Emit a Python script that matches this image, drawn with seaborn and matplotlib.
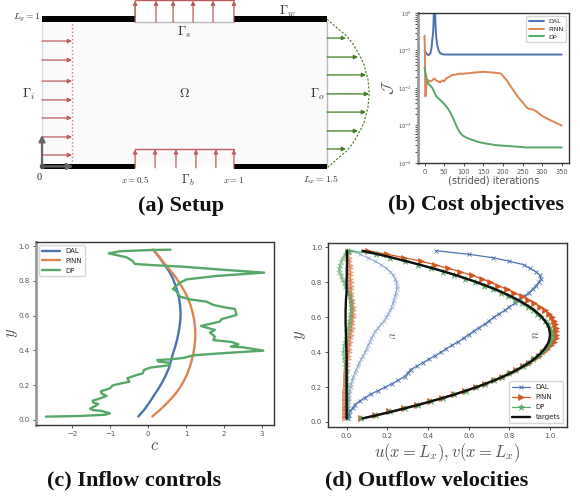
import matplotlib
matplotlib.use("Agg")
import matplotlib.pyplot as plt
import pandas as pd
import seaborn as sns
from matplotlib.patches import Rectangle

# (b) cost objectives
iter_dal = [0, 3, 6, 10, 15, 18, 20, 22, 23, 24, 25, 26, 27, 28, 30, 33, 36, 40, 45, 50, 100, 200, 350]
cost_dal = [0.1, 0.09, 0.08, 0.075, 0.083, 0.12, 0.2, 0.3, 0.5, 1.5, 3.0, 3.0, 1.5, 0.5, 0.22, 0.13, 0.1, 0.085, 0.08,
            0.078, 0.078, 0.078, 0.078]
iter_pinn = [0, 1, 2, 3, 5, 8, 10, 15, 20, 25, 30, 35, 40, 45, 50, 55, 60, 65, 70, 80, 90, 100, 115, 130, 150, 170, 190,
             195, 200, 210, 220, 230, 240, 250, 260, 265, 275, 285, 300, 320, 350]
cost_pinn = [0.25, 0.1, 0.006, 0.006, 0.012, 0.016, 0.016, 0.015, 0.016, 0.018, 0.016, 0.015, 0.014, 0.016, 0.015, 0.018,
             0.019, 0.02, 0.022, 0.023, 0.024, 0.024, 0.025, 0.026, 0.027, 0.026, 0.025, 0.024, 0.021, 0.016, 0.011, 0.0078,
             0.0055, 0.0042, 0.0031, 0.0028, 0.0027, 0.0024, 0.0018, 0.0014, 0.001]
iter_dp = [0, 3, 6, 10, 15, 20, 25, 30, 40, 50, 60, 65, 70, 75, 80, 85, 90, 95, 100, 110, 120, 135, 150, 180, 220, 260, 350]
cost_dp = [0.035, 0.024, 0.017, 0.013, 0.0115, 0.01, 0.0078, 0.006, 0.0048, 0.0038, 0.0028, 0.0023, 0.0018, 0.0014, 0.00105,
           0.00082, 0.00066, 0.00057, 0.00052, 0.00046, 0.00042, 0.00037, 0.00034, 0.0003, 0.00028, 0.00026, 0.00026]

# (c) inflow controls
c_y_lines = [0.02, 0.06, 0.1, 0.14, 0.18, 0.22, 0.26, 0.30, 0.34, 0.38, 0.42, 0.46, 0.5, 0.54, 0.58, 0.62, 0.66, 0.70,
             0.74, 0.78, 0.82, 0.86, 0.90, 0.94, 0.98]
c_dal = [-0.26, -0.1, 0.03, 0.15, 0.27, 0.38, 0.47, 0.55, 0.60, 0.65, 0.71, 0.76, 0.80, 0.83, 0.85, 0.855, 0.84, 0.815,
         0.77, 0.71, 0.64, 0.54, 0.41, 0.28, 0.135]
c_pinn = [0.11, 0.32, 0.51, 0.68, 0.82, 0.93, 1.02, 1.09, 1.145, 1.19, 1.22, 1.24, 1.245, 1.235, 1.21, 1.17, 1.12, 1.05,
          0.96, 0.85, 0.73, 0.59, 0.43, 0.29, 0.135]
c_y_dp = [0.019, 0.023, 0.030, 0.038, 0.052, 0.057, 0.065, 0.080, 0.092, 0.10, 0.111, 0.121, 0.138, 0.153, 0.165, 0.182,
          0.199, 0.211, 0.22, 0.24, 0.259, 0.268, 0.288, 0.301, 0.316, 0.33, 0.336, 0.345, 0.349, 0.357, 0.372, 0.382,
          0.399, 0.418, 0.422, 0.435, 0.449, 0.46, 0.48, 0.503, 0.518, 0.541, 0.566, 0.581, 0.604, 0.639, 0.646, 0.662,
          0.681, 0.694, 0.710, 0.744, 0.754, 0.790, 0.809, 0.829, 0.848, 0.863, 0.882, 0.892, 0.898, 0.917, 0.936, 0.959,
          0.971, 0.978, 0.980]
c_dp = [-2.70, -1.80, -1.14, -1.01, -1.23, -1.45, -1.535, -1.40, -1.315, -1.45, -1.465, -1.315, -1.095, -1.23, -1.25, -1.01,
        -0.937, -0.70, -0.497, -0.55, -0.30, -0.145, -0.11, 0.05, 0.58, 0.53, 0.27, 0.24, 0.58, 0.93, 1.19, 1.81,
        3.04, 2.51, 2.18, 2.38, 2.20, 1.72, 1.76, 1.63, 1.76, 1.39, 1.89, 1.94, 2.33, 2.29, 2.07, 1.72,
        1.54, 1.10, 0.84, 0.73, 0.65, 0.84, 1.01, 1.81, 3.06, 2.07, 0.93, 0.05, -0.35, -0.42, -0.57, -1.04,
        -0.74, 0.05, 0.59]

# (d) outflow velocities
out_y = [0.02, 0.04, 0.06, 0.08, 0.10, 0.12, 0.14, 0.16, 0.18, 0.20, 0.22, 0.24, 0.26, 0.28, 0.30, 0.32, 0.34,
         0.36, 0.38, 0.40, 0.42, 0.44, 0.46, 0.48, 0.50, 0.52, 0.54, 0.56, 0.58, 0.60, 0.62, 0.64, 0.66, 0.68,
         0.70, 0.72, 0.74, 0.76, 0.78, 0.80, 0.82, 0.84, 0.86, 0.88, 0.90, 0.92, 0.94, 0.96, 0.98]
u_target = [0.078, 0.154, 0.226, 0.294, 0.36, 0.422, 0.482, 0.538, 0.59, 0.64, 0.686, 0.73, 0.77, 0.806, 0.84, 0.87, 0.898,
            0.922, 0.942, 0.96, 0.974, 0.986, 0.994, 0.998, 1.0, 0.998, 0.994, 0.986, 0.974, 0.96, 0.942, 0.922, 0.898, 0.87,
            0.84, 0.806, 0.77, 0.73, 0.686, 0.64, 0.59, 0.538, 0.482, 0.422, 0.36, 0.294, 0.226, 0.154, 0.078]
v_target = [0.0, 0.0, 0.0, 0.0, 0.0, 0.0, 0.0, 0.0, 0.0, 0.0, 0.0, 0.0, 0.0, 0.0, 0.0, 0.0, 0.0,
            0.0, 0.0, -0.001, -0.001, -0.002, -0.002, -0.003, -0.003, -0.004, -0.004, -0.005, -0.005, -0.005, -0.005, -0.005, -0.004, -0.004,
            -0.003, -0.002, 0.0, 0.0, 0.0, 0.0, 0.0, 0.001, 0.001, 0.001, 0.002, 0.002, 0.002, 0.002, 0.002]
u_dal = [0.005, 0.01, 0.015, 0.03, 0.04, 0.065, 0.09, 0.12, 0.155, 0.19, 0.225, 0.255, 0.285, 0.3, 0.315, 0.345, 0.375,
         0.405, 0.435, 0.465, 0.49, 0.52, 0.55, 0.575, 0.6, 0.625, 0.65, 0.68, 0.7, 0.725, 0.75, 0.78, 0.8, 0.83,
         0.85, 0.875, 0.895, 0.915, 0.93, 0.945, 0.955, 0.95, 0.93, 0.9, 0.87, 0.8, 0.72, 0.6, 0.44]
v_dal = [0.0, 0.003, 0.005, 0.007, 0.008, 0.01, 0.012, 0.014, 0.016, 0.02, 0.024, 0.028, 0.033, 0.04, 0.048, 0.055, 0.063,
         0.072, 0.08, 0.09, 0.098, 0.106, 0.114, 0.122, 0.132, 0.142, 0.155, 0.17, 0.185, 0.195, 0.205, 0.215, 0.222, 0.228,
         0.232, 0.238, 0.243, 0.246, 0.247, 0.245, 0.238, 0.23, 0.215, 0.195, 0.17, 0.14, 0.105, 0.065, 0.03]
u_pinn = [0.07, 0.14, 0.21, 0.28, 0.345, 0.41, 0.47, 0.53, 0.58, 0.635, 0.68, 0.725, 0.765, 0.805, 0.835, 0.865, 0.895,
          0.92, 0.945, 0.965, 0.985, 1.005, 1.02, 1.028, 1.03, 1.03, 1.028, 1.025, 1.018, 1.008, 0.997, 0.975, 0.95, 0.923,
          0.893, 0.861, 0.823, 0.787, 0.746, 0.705, 0.664, 0.615, 0.557, 0.5, 0.434, 0.366, 0.284, 0.197, 0.107]
v_pinn = [-0.01, -0.01, -0.009, -0.009, -0.008, -0.008, -0.007, -0.007, -0.006, -0.005, -0.005, -0.004, -0.003, -0.002, 0.0, 0.001, 0.003,
          0.005, 0.008, 0.01, 0.012, 0.014, 0.016, 0.018, 0.02, 0.023, 0.025, 0.027, 0.028, 0.03, 0.031, 0.031, 0.03, 0.028,
          0.025, 0.024, 0.023, 0.022, 0.021, 0.02, 0.019, 0.019, 0.018, 0.017, 0.015, 0.013, 0.011, 0.008, 0.005]
u_dp = [0.07, 0.145, 0.215, 0.285, 0.35, 0.415, 0.475, 0.53, 0.585, 0.635, 0.68, 0.725, 0.765, 0.8, 0.835, 0.865, 0.893,
        0.918, 0.94, 0.96, 0.975, 0.99, 1.0, 1.005, 1.01, 1.005, 0.998, 0.988, 0.975, 0.958, 0.938, 0.915, 0.89, 0.86,
        0.83, 0.795, 0.76, 0.72, 0.675, 0.63, 0.58, 0.53, 0.475, 0.415, 0.35, 0.285, 0.215, 0.145, 0.01]
v_dp = [0.005, 0.005, 0.004, 0.004, 0.003, 0.003, 0.002, 0.002, 0.001, 0.0, 0.0, -0.001, -0.002, -0.003, -0.005, -0.008, -0.01,
        -0.013, -0.015, -0.016, -0.015, -0.013, -0.01, -0.005, 0.0, 0.004, 0.008, 0.011, 0.014, 0.016, 0.018, 0.02, 0.021, 0.021,
        0.02, 0.016, 0.008, 0.002, -0.006, -0.015, -0.024, -0.03, -0.035, -0.036, -0.032, -0.026, -0.018, -0.01, 0.0]

# (a) setup
inflow_y = [0.867, 0.734, 0.587, 0.455, 0.329, 0.196, 0.07]
inflow_len = 0.158
top_arrow_x = [0.49, 0.6, 0.69, 0.795, 0.9, 1.01]
bot_arrow_x = [0.49, 0.595, 0.705, 0.81, 0.915, 1.01]
outflow_y = [0.888, 0.755, 0.63, 0.497, 0.37, 0.238, 0.112]
outflow_tip = [1.6, 1.663, 1.705, 1.721, 1.705, 1.663, 1.6]
curve_y = [1.02, 0.95, 0.9, 0.85, 0.8, 0.75, 0.7, 0.6, 0.5, 0.4, 0.3, 0.25, 0.2, 0.15, 0.1, 0.05, -0.02]
curve_x = [1.5, 1.56, 1.605, 1.635, 1.657, 1.678, 1.695, 1.715, 1.722, 1.715, 1.695, 1.678, 1.657, 1.635, 1.605, 1.56, 1.5]

blue, orange, green = "#4C72B0", "#DD8452", "#55A868"
grey = "#555555"
red_arrow, green_arrow = "#BF5B5B", "#3F7D20"

sns.set_style("ticks")
plt.rcParams["mathtext.fontset"] = "cm"
plt.rcParams["font.family"] = ["DejaVu Sans"]
plt.rcParams["axes.edgecolor"] = "#333333"

W, H = 580, 496
fig = plt.figure(figsize=(W / 100, H / 100), dpi=100)


def px_axes(left, top, right, bottom):
    return fig.add_axes([left / W, 1 - bottom / H, (right - left) / W, (bottom - top) / H])


def curve(ax, x, y, color, label=None, **kw):
    df = pd.DataFrame({"x": x, "y": y})
    if "marker" in kw:
        kw.setdefault("markeredgecolor", color)
    sns.lineplot(data=df, x="x", y="y", sort=False, estimator=None, color=color, label=label, ax=ax,
                 solid_joinstyle="round", **kw)


def style(ax, size, thick_left=False):
    ax.tick_params(labelsize=size, colors=grey, length=2.5, width=0.7, pad=2)
    for s in ax.spines.values():
        s.set_linewidth(1.0)
    if thick_left:
        ax.spines["left"].set_linewidth(2)
        ax.spines["left"].set_color("#999999")


# panel a
ax = px_axes(0, 0, 370, 182)
ax.axis("off")
ax.add_patch(Rectangle((0, 0), 1.5, 1, color="#FAFAFA", lw=0, zorder=0))
ax.plot([0, 0], [0, 1], color="#DDDDDD", lw=1)
ax.plot([1.5, 1.5], [0, 1], color="#BBBBBB", lw=1)
for x0, x1, y0 in [(0, 0.49, 1.0), (1.01, 1.5, 1.0), (0, 0.49, -0.03), (1.01, 1.5, -0.03)]:
    ax.add_patch(Rectangle((x0, y0), x1 - x0, 0.04, color="black", lw=0, zorder=3))
ax.plot([0.49, 1.01], [1.0, 1.0], color="#BBBBBB", lw=1)
ax.plot([0.49, 0.49], [1.0, 1.14], color="#BBBBBB", lw=1.2)
ax.plot([0.49, 1.01], [1.152, 1.152], color=red_arrow, lw=1)
ax.plot([0.49, 1.01], [0.112, 0.112], color=red_arrow, lw=1)
ax.plot([inflow_len, inflow_len], [0, 1], color=red_arrow, lw=1, ls=":", alpha=0.8)


def arrow(ax, start, end, color, lw=0.9, ms=6):
    ax.annotate("", xy=end, xytext=start, arrowprops=dict(arrowstyle="-|>", color=color, lw=lw, mutation_scale=ms,
                                                          shrinkA=0, shrinkB=0))


for y in inflow_y:
    arrow(ax, (0, y), (inflow_len, y), red_arrow)
for x in top_arrow_x:
    arrow(ax, (x, 1.0), (x, 1.15), red_arrow)
for x in bot_arrow_x:
    arrow(ax, (x, -0.02), (x, 0.11), red_arrow)
for y, tip in zip(outflow_y, outflow_tip):
    arrow(ax, (1.5, y), (tip, y), green_arrow)
curve(ax, curve_x, curve_y, green_arrow, lw=0.8, ls=(0, (2, 1.5)))
ax.set_xlim(-0.221, 1.726)
ax.set_ylim(-0.119, 1.154)
arrow(ax, (0, -0.01), (0, 0.21), "#666666", lw=1.6, ms=9)
arrow(ax, (0, -0.01), (0.165, -0.01), "#666666", lw=1.6, ms=9)
ax.plot([0], [-0.01], "o", color="#555555", ms=3, zorder=5)
labels_a = [(-0.08, 1.03, r"$L_y=1$", 7), (1.29, 1.075, r"$\Gamma_w$", 9.5), (0.75, 0.93, r"$\Gamma_s$", 9.5),
            (-0.07, 0.497, r"$\Gamma_i$", 9.5), (0.75, 0.5, r"$\Omega$", 9.5), (1.45, 0.497, r"$\Gamma_o$", 9.5),
            (0.49, -0.105, r"$x=0.5$", 6.5), (0.77, -0.105, r"$\Gamma_b$", 9), (1.01, -0.105, r"$x=1$", 6.5),
            (1.47, -0.105, r"$L_x=1.5$", 7)]
for x, y, s, fs in labels_a:
    ax.text(x, y, s, ha="center", va="center", fontsize=fs, color="#333333")
ax.text(-0.016, -0.09, "0", ha="center", va="center", fontsize=7.5, color="#222222", family="Liberation Serif")

# panel b
ax = px_axes(418, 13, 569, 163)
curve(ax, iter_dal, cost_dal, blue, "DAL", lw=1.4)
curve(ax, iter_pinn, cost_pinn, orange, "PINN", lw=1.4)
curve(ax, iter_dp, cost_dp, green, "DP", lw=1.4)
ax.set_yscale("log")
ax.set_xlim(-16.6, 368.6)
ax.set_ylim(1e-4, 1)
ax.set_xticks([0, 50, 100, 150, 200, 250, 300, 350])
ax.set_xlabel("(strided) iterations", fontsize=7, color=grey)
ax.xaxis.set_label_coords(0.5, -0.082)
ax.set_ylabel(r"$\mathcal{J}$", fontsize=11, color=grey)
ax.yaxis.set_label_coords(-0.146, 0.5)
style(ax, 3.8, thick_left=True)
ax.tick_params(axis="x", labelsize=4.8)
ax.legend(loc="upper right", fontsize=4.6, frameon=True, borderpad=0.4, labelspacing=0.35, handlelength=2.4,
          handletextpad=0.6, borderaxespad=0.5)

# panel c
ax = px_axes(36, 241.7, 274, 425)
curve(ax, c_dal, c_y_lines, blue, "DAL", lw=1.7)
curve(ax, c_pinn, c_y_lines, orange, "PINN", lw=1.7)
curve(ax, c_dp, c_y_dp, green, "DP", lw=1.7)
ax.set_xlim(-2.96, 3.32)
ax.set_ylim(-0.029, 1.026)
ax.set_xticks([-2, -1, 0, 1, 2, 3])
ax.set_yticks([0, 0.2, 0.4, 0.6, 0.8, 1.0])
ax.set_xlabel(r"$c$", fontsize=12, color=grey)
ax.xaxis.set_label_coords(0.5, -0.062)
ax.set_ylabel(r"$y$", fontsize=12, color=grey)
ax.yaxis.set_label_coords(-0.068, 0.5)
style(ax, 5, thick_left=True)
ax.legend(loc="upper left", fontsize=5, frameon=True, borderpad=0.4, labelspacing=0.55, handlelength=2.6)

# panel d
ax = px_axes(328.3, 242.7, 566.7, 426.7)
pinn_dark = "#D2571F"
curve(ax, v_dal, out_y, blue, lw=0.9, marker="x", ms=3.5, mew=0.6, alpha=0.45)
curve(ax, v_pinn, out_y, pinn_dark, lw=0.9, marker=">", ms=4, mew=0.4, alpha=0.45)
curve(ax, v_dp, out_y, green, lw=0.9, marker="*", ms=4.5, mew=0.4, alpha=0.45)
curve(ax, u_dal, out_y, blue, "DAL", lw=0.9, marker="x", ms=3.5, mew=0.6)
curve(ax, u_pinn, out_y, pinn_dark, "PINN", lw=0.9, marker=">", ms=4.5, mew=0.4)
curve(ax, u_dp, out_y, green, "DP", lw=0.9, marker="*", ms=4.5, mew=0.4)
curve(ax, u_target, out_y, "#111111", "targets", lw=1.7)
curve(ax, v_target, out_y, "#111111", lw=1.7)
ax.set_xlim(-0.09, 1.082)
ax.set_ylim(-0.027, 1.026)
ax.set_xticks([0, 0.2, 0.4, 0.6, 0.8, 1.0])
ax.set_yticks([0, 0.2, 0.4, 0.6, 0.8, 1.0])
ax.set_xlabel(r"$u(x=L_x), v(x=L_x)$", fontsize=12, color=grey)
ax.xaxis.set_label_coords(0.5, -0.077)
ax.set_ylabel(r"$y$", fontsize=12, color=grey)
ax.yaxis.set_label_coords(-0.085, 0.5)
style(ax, 5)
ax.text(0.22, 0.5, r"$v$", rotation=-90, ha="center", va="center", fontsize=9, color=grey)
ax.text(0.926, 0.5, r"$u$", rotation=-90, ha="center", va="center", fontsize=9, color=grey)
ax.legend(loc="lower right", fontsize=5, frameon=True, borderpad=0.4, labelspacing=0.6, handlelength=2.6)

# captions
captions = [(181, 206, "(a) Setup"), (476, 205, "(b) Cost objectives"), (134, 480, "(c) Inflow controls"),
            (427, 480, "(d) Outflow velocities")]
for x, y, s in captions:
    fig.text(x / W, 1 - y / H, s, ha="center", va="center", fontsize=16, fontweight="bold",
             family="Liberation Serif", color="#111111")

fig.savefig("out.png", dpi=100)
